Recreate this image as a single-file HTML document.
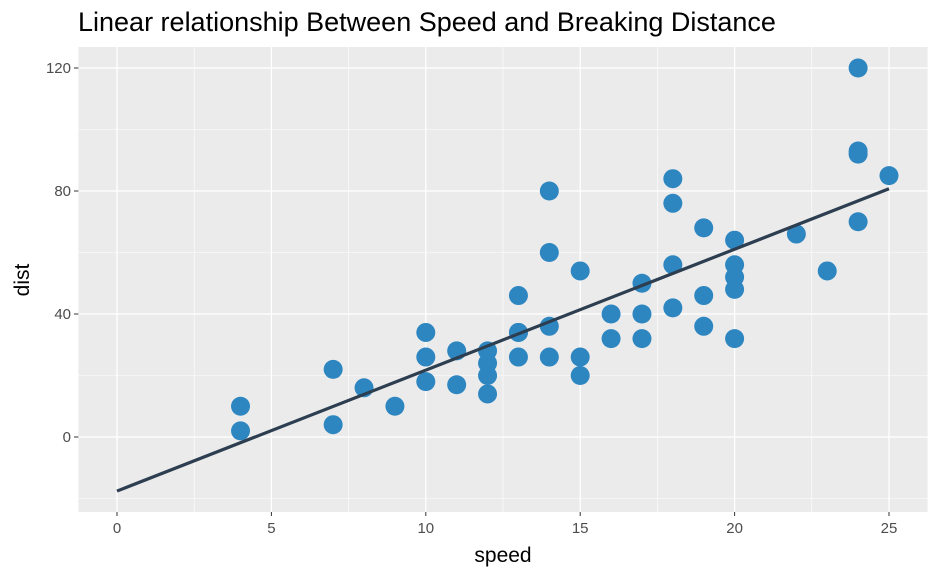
<!DOCTYPE html>
<html><head><meta charset="utf-8"><style>
body{margin:0;background:#fff;font-family:"Liberation Sans",sans-serif}
</style></head><body>
<svg id="chart" width="939" height="579" xmlns="http://www.w3.org/2000/svg" font-family="Liberation Sans, sans-serif">
<text x="78" y="31" font-size="27" fill="#000">Linear relationship Between Speed and Breaking Distance</text>
<rect x="78.4" y="47" width="849.2" height="465" fill="#EBEBEB"/>
<g id="grid"></g>
<g id="marks"></g>
<g id="axes"></g>
<text x="503" y="562" font-size="21" text-anchor="middle">speed</text>
<text transform="translate(29,280) rotate(-90)" font-size="21" text-anchor="middle">dist</text>
</svg>
<script>
const speed=[4,4,7,7,8,9,10,10,10,11,11,12,12,12,12,13,13,13,13,14,14,14,14,15,15,15,16,16,17,17,17,18,18,18,18,19,19,19,20,20,20,20,20,22,23,24,24,24,24,25];
const dist=[2,10,4,22,16,10,18,26,34,17,28,14,20,24,28,26,34,34,46,26,36,60,80,20,26,54,32,40,32,40,50,42,56,76,84,36,46,68,32,48,52,56,64,66,54,70,92,93,120,85];
const xTicks=[0,5,10,15,20,25];
const yTicks=[0,40,80,120];
const intercept=-17.579, slope=3.932;
const X=v=>117+v*30.88, Y=v=>437-v*3.075;
const ns="http://www.w3.org/2000/svg";
const grid=document.getElementById('grid'),marks=document.getElementById('marks'),axes=document.getElementById('axes');
function mk(tag,attrs,parent){const e=document.createElementNS(ns,tag);for(const k in attrs)e.setAttribute(k,attrs[k]);parent.appendChild(e);return e;}
for(let i=0;i<xTicks.length-1;i++){const m=(xTicks[i]+xTicks[i+1])/2;const l=mk('line',{x1:X(m),x2:X(m),y1:47,y2:512,stroke:'#fff','stroke-width':0.6},grid);
}
for(const m of [-20,20,60,100]){const l=mk('line',{x1:78.4,x2:927.6,y1:Y(m),y2:Y(m),stroke:'#fff','stroke-width':0.6},grid);
}
xTicks.forEach(t=>{const l=mk('line',{x1:X(t),x2:X(t),y1:47,y2:512,stroke:'#fff','stroke-width':1.3},grid);

const k=mk('line',{x1:X(t),x2:X(t),y1:512,y2:516,stroke:'#333','stroke-width':1},axes);

const tx=mk('text',{x:X(t),y:533,'font-size':15,fill:'#4d4d4d','text-anchor':'middle'},axes);tx.textContent=t;
});
yTicks.forEach(t=>{const l=mk('line',{x1:78.4,x2:927.6,y1:Y(t),y2:Y(t),stroke:'#fff','stroke-width':1.3},grid);

const k=mk('line',{x1:74,x2:78.4,y1:Y(t),y2:Y(t),stroke:'#333','stroke-width':1},axes);

const tx=mk('text',{x:71,y:Y(t)+5,'font-size':15,fill:'#4d4d4d','text-anchor':'end'},axes);tx.textContent=t;
});
speed.forEach((s,i)=>{const c=mk('circle',{cx:X(s),cy:Y(dist[i]),r:9.5,fill:'#2E86C1'},marks);
});
const x0=0,x1=25;
const ln=mk('line',{x1:X(x0),y1:Y(intercept+slope*x0),x2:X(x1),y2:Y(intercept+slope*x1),stroke:'#2C3E50','stroke-width':3.2},marks);

</script>
</body></html>
